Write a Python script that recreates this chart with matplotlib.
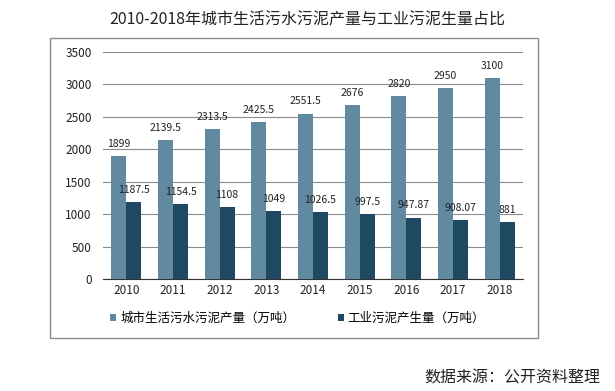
import numpy as np
import matplotlib
matplotlib.use("Agg")
import matplotlib.pyplot as plt
from matplotlib.patches import Rectangle

plt.rcParams['font.family'] = ['Noto Sans CJK SC', 'DejaVu Sans']

years = ["2010", "2011", "2012", "2013", "2014", "2015", "2016", "2017", "2018"]
city = [1899, 2139.5, 2313.5, 2425.5, 2551.5, 2676, 2820, 2950, 3100]
industry = [1187.5, 1154.5, 1108, 1049, 1026.5, 997.5, 947.87, 908.07, 881]
city_labels = ["1899", "2139.5", "2313.5", "2425.5", "2551.5", "2676", "2820", "2950", "3100"]
ind_labels = ["1187.5", "1154.5", "1108", "1049", "1026.5", "997.5", "947.87", "908.07", "881"]

c_city = "#618AA1"
c_ind = "#1F4962"

W, H = 615, 391
fig = plt.figure(figsize=(W / 100, H / 100), dpi=100)
ax = fig.add_axes([103 / W, 1 - 279 / H, 420 / W, (279 - 52) / H])

x = np.arange(len(years))
bw = 0.32
ax.bar(x - bw / 2, city, bw, color=c_city, zorder=3,
       label="城市生活污水污泥产量（万吨）")
ax.bar(x + bw / 2, industry, bw, color=c_ind, zorder=3,
       label="工业污泥产生量（万吨）")

for i in range(len(years)):
    ax.text(x[i] - bw / 2, city[i] + 110, city_labels[i], ha="center", va="bottom",
            fontsize=7.5, color="#222222")
    ax.text(x[i] + bw / 2, industry[i] + 110, ind_labels[i], ha="center", va="bottom",
            fontsize=7.5, color="#222222")

ax.set_xlim(-0.5, len(years) - 0.5)
ax.set_ylim(0, 3500)
ax.set_yticks(range(0, 3501, 500))
ax.set_xticks(x)
ax.set_xticklabels(years)
ax.grid(axis="y", color="#8c8c8c", linewidth=0.8, zorder=0)
for s in ["left", "right", "top"]:
    ax.spines[s].set_visible(False)
ax.spines["bottom"].set_color("#333333")
ax.tick_params(length=0, labelsize=8.5, colors="#222222")
ax.tick_params(axis="y", pad=8)

ax.legend(loc="upper left", bbox_to_anchor=(-0.01, -0.095), ncol=2, frameon=False,
          fontsize=9, handlelength=0.5, handleheight=0.5, handletextpad=0.3,
          columnspacing=3.4)

fig.patches.append(Rectangle((50 / W, 1 - 338 / H), 488 / W, 300 / H,
                             transform=fig.transFigure, fill=False,
                             edgecolor="#8c8c8c", linewidth=1))

fig.text(307 / W, 1 - 20 / H, "2010-2018年城市生活污水污泥产量与工业污泥生量占比",
         ha="center", va="center", fontsize=11.5, color="#222222")
fig.text(600 / W, 1 - 378 / H, "数据来源：公开资料整理", ha="right", va="center",
         fontsize=11.5, color="#222222")

fig.savefig("out.png", dpi=100)
